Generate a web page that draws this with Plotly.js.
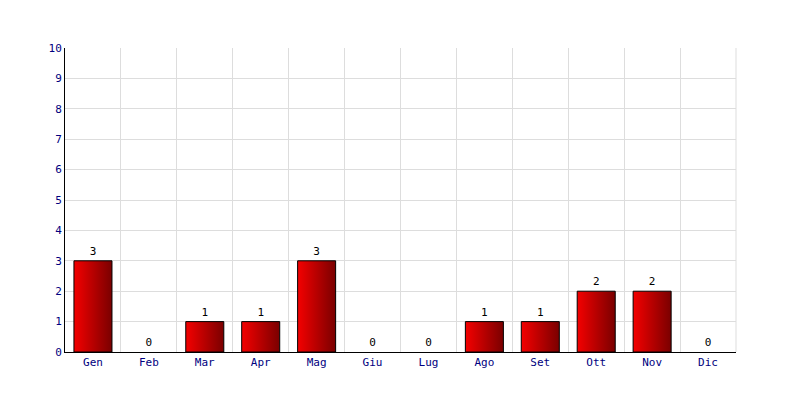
<!DOCTYPE html>
<html>
<head>
<meta charset="utf-8">
<script src="https://cdn.plot.ly/plotly-3.0.1.min.js"></script>
<style>body{margin:0;background:#fff}</style>
</head>
<body>
<div id="chart" style="width:800px;height:400px"></div>
<script>
const months = ["Gen","Feb","Mar","Apr","Mag","Giu","Lug","Ago","Set","Ott","Nov","Dic"];
const counts = [3,0,1,1,3,0,0,1,1,2,2,0];

const font = {family: "DejaVu Sans Mono, monospace", size: 11, color: "#000080"};

Plotly.newPlot("chart", [{
  type: "bar",
  x: months,
  y: counts,
  text: counts.map(String),
  textposition: "outside",
  cliponaxis: false,
  textfont: {family: "DejaVu Sans Mono, monospace", size: 11, color: "#000000"},
  marker: {color: "#c00000", line: {color: "#000000", width: counts.map(function(v){ return v ? 1 : 0; })}},
  width: 0.68,
  hoverinfo: "none"
}], {
  width: 800, height: 400,
  margin: {l: 65, r: 64, t: 48, b: 48},
  paper_bgcolor: "#ffffff",
  plot_bgcolor: "#ffffff",
  showlegend: false,
  font: font,
  shapes: [{type: "line", xref: "paper", yref: "paper", x0: 1, x1: 1, y0: 0, y1: 1,
            line: {color: "#dddddd", width: 1}, layer: "below"}],
  xaxis: {
    type: "category",
    tickson: "boundaries",
    showgrid: true, gridcolor: "#dddddd", gridwidth: 1,
    showline: true, linecolor: "#000000", linewidth: 1,
    ticks: "", tickfont: font,
    fixedrange: true
  },
  yaxis: {
    range: [0, 10], dtick: 1,
    showgrid: true, gridcolor: "#dddddd", gridwidth: 1,
    showline: true, linecolor: "#000000", linewidth: 1,
    zeroline: false,
    ticks: "", tickfont: font, ticklen: 0,
    fixedrange: true
  }
}, {staticPlot: true, displayModeBar: false}).then(function(gd){
  const svg = gd.querySelector("svg.main-svg");
  const ns = "http://www.w3.org/2000/svg";
  let defs = svg.querySelector("defs");
  if (!defs) { defs = document.createElementNS(ns, "defs"); svg.insertBefore(defs, svg.firstChild); }
  const lg = document.createElementNS(ns, "linearGradient");
  lg.setAttribute("id", "barGrad");
  lg.setAttribute("x1", "0"); lg.setAttribute("y1", "0");
  lg.setAttribute("x2", "1"); lg.setAttribute("y2", "0");
  [["0%", "#f40000"], ["100%", "#7a0000"]].forEach(function(s){
    const st = document.createElementNS(ns, "stop");
    st.setAttribute("offset", s[0]); st.setAttribute("stop-color", s[1]);
    lg.appendChild(st);
  });
  defs.appendChild(lg);
  gd.querySelectorAll(".barlayer .point path").forEach(function(p){
    p.style.fill = "url(#barGrad)";
  });
});
</script>
</body>
</html>
